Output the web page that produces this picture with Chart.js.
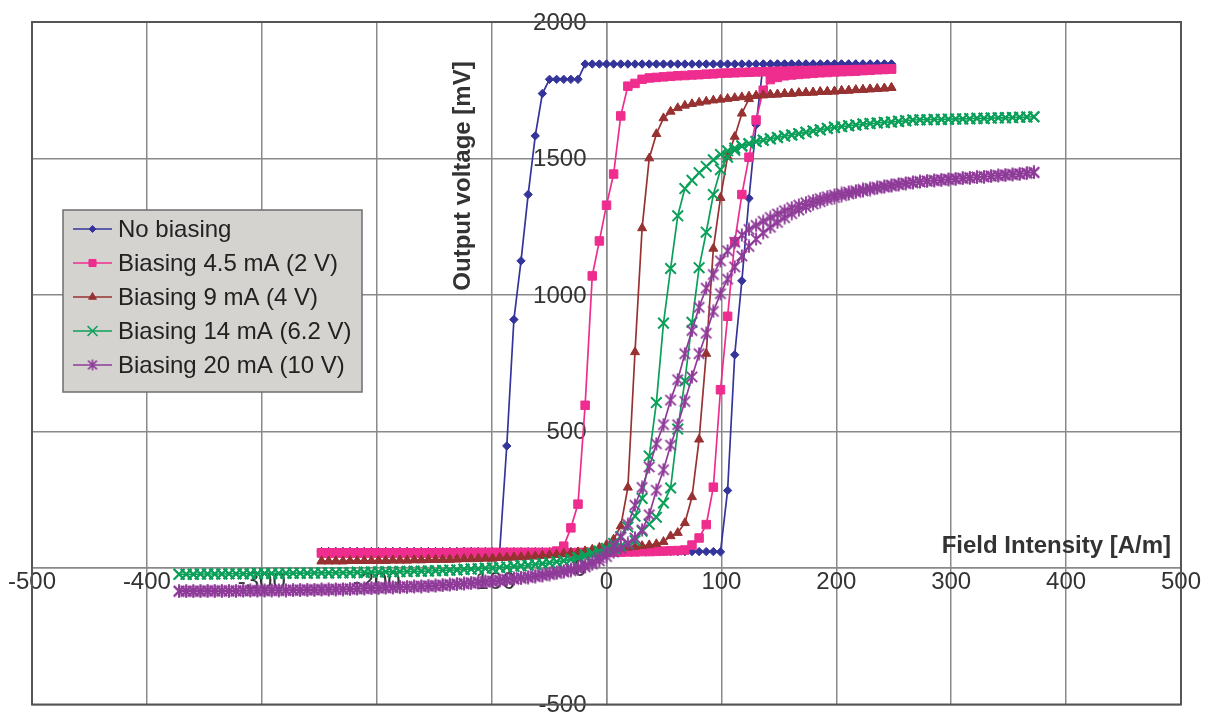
<!DOCTYPE html>
<html>
<head>
<meta charset="utf-8">
<title>Output voltage vs field intensity</title>
<script src="https://cdn.jsdelivr.net/npm/chart.js@4.4.1/dist/chart.umd.min.js"></script>
<style>
  html, body { margin: 0; padding: 0; background: #fff; }
  #wrap { width: 1207px; height: 714px; position: relative; }
</style>
</head>
<body>
<div id="wrap"><canvas id="loopChart"></canvas></div>
<script>
// Field intensity [A/m] the sensors were swept over
const fieldShort = [
  -248, -241.8, -235.6, -229.4, -223.2, -217, -210.8, -204.6, -198.4, -192.2,
  -186, -179.8, -173.6, -167.4, -161.2, -155, -148.8, -142.6, -136.4, -130.2,
  -124, -117.8, -111.6, -105.4, -99.2, -93, -86.8, -80.6, -74.4, -68.2,
  -62, -55.8, -49.6, -43.4, -37.2, -31, -24.8, -18.6, -12.4, -6.2,
  0, 6.2, 12.4, 18.6, 24.8, 31, 37.2, 43.4, 49.6, 55.8,
  62, 68.2, 74.4, 80.6, 86.8, 93, 99.2, 105.4, 111.6, 117.8,
  124, 130.2, 136.4, 142.6, 148.8, 155, 161.2, 167.4, 173.6, 179.8,
  186, 192.2, 198.4, 204.6, 210.8, 217, 223.2, 229.4, 235.6, 241.8,
  248
];
const fieldLong = [
  -372, -365.8, -359.6, -353.4, -347.2, -341, -334.8, -328.6, -322.4, -316.2,
  -310, -303.8, -297.6, -291.4, -285.2, -279, -272.8, -266.6, -260.4, -254.2,
  -248, -241.8, -235.6, -229.4, -223.2, -217, -210.8, -204.6, -198.4, -192.2,
  -186, -179.8, -173.6, -167.4, -161.2, -155, -148.8, -142.6, -136.4, -130.2,
  -124, -117.8, -111.6, -105.4, -99.2, -93, -86.8, -80.6, -74.4, -68.2,
  -62, -55.8, -49.6, -43.4, -37.2, -31, -24.8, -18.6, -12.4, -6.2,
  0, 6.2, 12.4, 18.6, 24.8, 31, 37.2, 43.4, 49.6, 55.8,
  62, 68.2, 74.4, 80.6, 86.8, 93, 99.2, 105.4, 111.6, 117.8,
  124, 130.2, 136.4, 142.6, 148.8, 155, 161.2, 167.4, 173.6, 179.8,
  186, 192.2, 198.4, 204.6, 210.8, 217, 223.2, 229.4, 235.6, 241.8,
  248, 254.2, 260.4, 266.6, 272.8, 279, 285.2, 291.4, 297.6, 303.8,
  310, 316.2, 322.4, 328.6, 334.8, 341, 347.2, 353.4, 359.6, 365.8,
  372
];

// Output voltage [mV]; "Rise" = increasing field, "Fall" = decreasing field,
// both listed in the same order as the field array
const noBiasRise = [
  60, 60, 60, 60, 60, 60, 60, 60, 60, 60,
  60, 60, 60, 60, 60, 60, 60, 60, 60, 60,
  60, 60, 60, 60, 60, 60, 60, 60, 60, 60,
  60, 60, 60, 60, 60, 60, 60, 60, 60, 60,
  60, 60, 60, 60, 60, 60, 60, 60, 60, 60,
  60, 60, 60, 60, 60, 60, 59, 284, 781, 1052,
  1354, 1623, 1846, 1846, 1846, 1846, 1846, 1846, 1846, 1846,
  1846, 1846, 1846, 1846, 1846, 1846, 1846, 1846, 1846, 1846,
  1846
];
const noBiasFall = [
  60, 60, 60, 60, 60, 60, 60, 60, 60, 60,
  60, 60, 60, 60, 60, 60, 60, 60, 60, 60,
  60, 60, 60, 60, 60, 59, 447, 910, 1125, 1368,
  1583, 1738, 1790, 1790, 1790, 1790, 1790, 1846, 1846, 1846,
  1846, 1846, 1846, 1846, 1846, 1846, 1846, 1846, 1846, 1846,
  1846, 1846, 1846, 1846, 1846, 1846, 1846, 1846, 1846, 1846,
  1846, 1846, 1846, 1846, 1846, 1846, 1846, 1846, 1846, 1846,
  1846, 1846, 1846, 1846, 1846, 1846, 1846, 1846, 1846, 1846,
  1846
];
const bias45Rise = [
  55, 55, 55, 55, 55, 55, 55, 55, 55, 55,
  55, 55, 55, 55, 55, 55, 55, 55, 55, 55,
  56, 56, 56, 56, 56, 56, 56, 56, 56, 56,
  56, 56, 56, 56, 56, 56, 57, 57, 57, 57,
  57, 58, 58, 59, 59, 60, 60, 61, 62, 63,
  64, 66, 84, 110, 159, 296, 653, 922, 1195, 1368,
  1505, 1641, 1750, 1789, 1797, 1803, 1806, 1808, 1810, 1812,
  1814, 1815, 1817, 1818, 1819, 1820, 1822, 1823, 1825, 1826,
  1828
];
const bias45Fall = [
  56, 56, 56, 56, 56, 56, 56, 56, 56, 56,
  56, 56, 56, 56, 56, 56, 56, 56, 56, 56,
  57, 57, 57, 57, 57, 57, 57, 57, 57, 57,
  57, 57, 57, 62, 80, 147, 234, 596, 1070, 1198,
  1329, 1443, 1656, 1765, 1775, 1790, 1795, 1797, 1799, 1801,
  1803, 1804, 1806, 1807, 1809, 1810, 1812, 1813, 1814, 1815,
  1816, 1817, 1818, 1819, 1820, 1820, 1821, 1822, 1822, 1823,
  1823, 1824, 1824, 1825, 1825, 1826, 1826, 1827, 1827, 1828,
  1828
];
const bias9Rise = [
  25, 25, 25, 25, 26, 26, 26, 26, 27, 27,
  28, 28, 28, 29, 29, 30, 30, 31, 31, 32,
  33, 33, 34, 35, 35, 37, 38, 39, 40, 42,
  43, 45, 47, 49, 52, 54, 57, 60, 62, 65,
  67, 70, 72, 75, 78, 81, 84, 88, 96, 117,
  129, 165, 260, 471, 785, 1170, 1356, 1507, 1580, 1665,
  1718, 1730, 1732, 1734, 1735, 1737, 1738, 1740, 1741, 1742,
  1744, 1745, 1746, 1748, 1749, 1751, 1752, 1754, 1755, 1757,
  1759
];
const bias9Fall = [
  25, 25, 25, 25, 26, 26, 26, 26, 27, 27,
  28, 28, 28, 29, 29, 30, 30, 31, 31, 32,
  33, 33, 34, 35, 35, 37, 38, 39, 40, 42,
  43, 45, 47, 49, 52, 55, 58, 62, 68, 75,
  85, 105, 153, 295, 791, 1245, 1501, 1590, 1648, 1672,
  1685, 1694, 1700, 1705, 1709, 1713, 1716, 1719, 1722, 1725,
  1728, 1730, 1732, 1734, 1735, 1737, 1738, 1740, 1741, 1742,
  1744, 1745, 1746, 1748, 1749, 1751, 1752, 1754, 1755, 1757,
  1759
];
const bias14Rise = [
  -23, -23, -23, -22, -22, -22, -22, -21, -21, -21,
  -21, -20, -20, -20, -20, -19, -19, -19, -19, -18,
  -18, -18, -17, -17, -17, -16, -16, -15, -15, -14,
  -14, -13, -13, -12, -12, -11, -10, -9, -8, -7,
  -5, -4, -3, -1, 0, 2, 4, 6, 8, 10,
  13, 16, 19, 23, 27, 31, 36, 42, 49, 57,
  65, 72, 80, 89, 100, 135, 160, 186, 238, 293,
  509, 685, 900, 1100, 1230, 1368, 1459, 1505, 1530, 1545,
  1553, 1562, 1567, 1572, 1577, 1582, 1586, 1591, 1596, 1601,
  1605, 1610, 1614, 1617, 1620, 1623, 1626, 1628, 1630, 1632,
  1634, 1636, 1638, 1641, 1642, 1642, 1643, 1643, 1644, 1645,
  1645, 1646, 1647, 1647, 1648, 1649, 1649, 1650, 1651, 1652,
  1653
];
const bias14Fall = [
  -23, -23, -23, -22, -22, -22, -22, -21, -21, -21,
  -21, -20, -20, -20, -20, -19, -19, -19, -19, -18,
  -18, -18, -17, -17, -17, -16, -16, -15, -15, -14,
  -14, -13, -13, -12, -12, -11, -10, -9, -8, -7,
  -5, -4, -3, -1, 0, 2, 4, 6, 8, 10,
  13, 16, 19, 23, 27, 32, 40, 48, 55, 62,
  72, 90, 115, 150, 190, 255, 410, 606, 897, 1097,
  1290, 1390, 1420, 1448, 1471, 1495, 1515, 1528, 1538, 1547,
  1555, 1562, 1567, 1572, 1577, 1582, 1586, 1591, 1596, 1601,
  1605, 1610, 1614, 1617, 1620, 1623, 1626, 1628, 1630, 1632,
  1634, 1636, 1638, 1641, 1642, 1642, 1643, 1643, 1644, 1645,
  1645, 1646, 1647, 1647, 1648, 1649, 1649, 1650, 1651, 1652,
  1653
];
const bias20Rise = [
  -86, -86, -86, -86, -85, -85, -85, -85, -85, -84,
  -84, -84, -84, -83, -83, -83, -82, -82, -81, -81,
  -80, -80, -79, -79, -78, -77, -76, -75, -74, -73,
  -72, -71, -70, -69, -68, -67, -66, -64, -62, -60,
  -58, -56, -54, -52, -50, -47, -44, -41, -38, -35,
  -32, -28, -24, -20, -15, -10, -4, 4, 14, 26,
  42, 58, 72, 90, 110, 140, 195, 285, 360, 450,
  525, 610, 700, 785, 860, 940, 1005, 1058, 1103, 1143,
  1178, 1205, 1228, 1248, 1266, 1283, 1298, 1311, 1323, 1333,
  1342, 1350, 1357, 1364, 1370, 1376, 1381, 1386, 1391, 1395,
  1399, 1404, 1408, 1411, 1414, 1417, 1419, 1421, 1423, 1425,
  1427, 1429, 1431, 1433, 1435, 1437, 1439, 1441, 1443, 1446,
  1449
];
const bias20Fall = [
  -84, -84, -84, -84, -83, -83, -83, -83, -83, -82,
  -82, -82, -82, -81, -81, -81, -80, -80, -79, -79,
  -78, -78, -77, -77, -76, -75, -74, -73, -72, -71,
  -70, -69, -68, -67, -66, -65, -64, -62, -60, -58,
  -56, -54, -52, -49, -47, -44, -41, -38, -35, -32,
  -28, -24, -20, -15, -10, -4, 3, 12, 23, 38,
  58, 82, 112, 160, 230, 295, 370, 455, 525, 615,
  690, 785, 870, 955, 1025, 1075, 1125, 1162, 1193, 1220,
  1240, 1255, 1270, 1284, 1297, 1309, 1320, 1329, 1338, 1346,
  1353, 1360, 1366, 1372, 1377, 1382, 1387, 1391, 1395, 1399,
  1403, 1407, 1410, 1413, 1416, 1418, 1420, 1422, 1424, 1426,
  1428, 1430, 1432, 1434, 1436, 1438, 1440, 1442, 1444, 1447,
  1449
];

const seriesNames = [
  'No biasing',
  'Biasing 4.5 mA (2 V)',
  'Biasing 9 mA (4 V)',
  'Biasing 14 mA (6.2 V)',
  'Biasing 20 mA (10 V)'
];
const seriesColors = ['#34349a', '#ee2d8f', '#983232', '#0ba05a', '#8f3b99'];
const xRange = [-500, 500];
const yRange = [-500, 2000];
const xStep = 100;
const yStep = 500;
const xTitle = 'Field Intensity [A/m]';
const yTitle = 'Output voltage [mV]';

const FONT = "'Liberation Sans', Arial, Helvetica, sans-serif";
const TEXT = '#333333';

// the "*" marker (x plus a vertical bar)
function asterisk(color, size, width) {
  const c = document.createElement('canvas');
  c.width = size;
  c.height = size;
  const g = c.getContext('2d');
  const m = size / 2, r = size / 2 - 0.5, d = r * 0.8;
  g.strokeStyle = color;
  g.lineWidth = width;
  g.beginPath();
  g.moveTo(m - d, m - d); g.lineTo(m + d, m + d);
  g.moveTo(m + d, m - d); g.lineTo(m - d, m + d);
  g.moveTo(m, m - r); g.lineTo(m, m + r);
  g.stroke();
  return c;
}

// walk up the rising branch, then back down the falling one
function loopPoints(field, rise, fall) {
  const pts = field.map((x, i) => ({ x: x, y: rise[i] }));
  for (let i = field.length - 1; i >= 0; i--) {
    pts.push({ x: field[i], y: fall[i] });
  }
  return pts;
}

const markers = [
  { style: 'rectRot', radius: 4.2, legendRadius: 3.5, border: 1 },
  { style: 'rect', radius: 6, legendRadius: 5, border: 1 },
  { style: 'triangle', radius: 5.2, legendRadius: 4.5, border: 1 },
  { style: 'crossRot', radius: 7.5, legendRadius: 7, border: 2 },
  { style: asterisk(seriesColors[4], 14, 1.9), legend: asterisk(seriesColors[4], 12, 1.6), radius: 6, legendRadius: 6, border: 1 }
];

const loops = [
  loopPoints(fieldShort, noBiasRise, noBiasFall),
  loopPoints(fieldShort, bias45Rise, bias45Fall),
  loopPoints(fieldShort, bias9Rise, bias9Fall),
  loopPoints(fieldLong, bias14Rise, bias14Fall),
  loopPoints(fieldLong, bias20Rise, bias20Fall)
];

const datasets = loops.map((pts, i) => ({
  label: seriesNames[i],
  data: pts,
  showLine: true,
  borderColor: seriesColors[i],
  backgroundColor: seriesColors[i],
  borderWidth: 1.7,
  pointStyle: markers[i].style,
  pointRadius: markers[i].radius,
  pointBorderWidth: markers[i].border,
  pointBackgroundColor: seriesColors[i],
  pointBorderColor: seriesColors[i],
  tension: 0,
  order: seriesNames.length - i   // later series drawn on top
}));

// tick labels beside the crossing axes, plot frame, axis titles, boxed legend
const decorations = {
  id: 'decorations',
  beforeDatasetsDraw(chart) {
    const { ctx, scales: { x, y } } = chart;
    const x0 = x.getPixelForValue(0);
    const y0 = y.getPixelForValue(0);
    ctx.save();
    ctx.fillStyle = TEXT;
    ctx.font = '24px ' + FONT;
    ctx.textBaseline = 'middle';
    ctx.textAlign = 'center';
    x.ticks.forEach(t => {
      ctx.fillText(String(t.value), x.getPixelForValue(t.value), y0 + 14);
    });
    ctx.textAlign = 'right';
    y.ticks.forEach(t => {
      ctx.fillText(String(t.value), x0 - 20, y.getPixelForValue(t.value) + 1);
    });
    ctx.restore();
  },
  afterDatasetsDraw(chart) {
    const { ctx, chartArea: a } = chart;
    ctx.save();
    ctx.strokeStyle = '#555555';
    ctx.lineWidth = 2;
    ctx.strokeRect(a.left, a.top, a.right - a.left, a.bottom - a.top);
    ctx.restore();
  },
  afterDraw(chart) {
    const ctx = chart.ctx;
    ctx.save();

    ctx.fillStyle = TEXT;
    ctx.font = 'bold 24px ' + FONT;
    ctx.textBaseline = 'middle';
    ctx.textAlign = 'right';
    ctx.fillText(xTitle, 1171, 546);

    ctx.save();
    ctx.translate(463, 176);
    ctx.rotate(-Math.PI / 2);
    ctx.textAlign = 'center';
    ctx.fillText(yTitle, 0, 0);
    ctx.restore();

    // legend box
    ctx.fillStyle = '#d5d3d0';
    ctx.fillRect(63, 210, 299, 182);
    ctx.strokeStyle = '#6e6e6e';
    ctx.lineWidth = 1.5;
    ctx.strokeRect(63, 210, 299, 182);

    ctx.font = '24px ' + FONT;
    ctx.textAlign = 'left';
    seriesNames.forEach((name, i) => {
      const y = 229 + i * 34;
      ctx.strokeStyle = seriesColors[i];
      ctx.fillStyle = seriesColors[i];
      ctx.lineWidth = 1.5;
      ctx.beginPath();
      ctx.moveTo(73, y);
      ctx.lineTo(112, y);
      ctx.stroke();
      const m = markers[i];
      ctx.lineWidth = Math.min(m.border, 1.6);
      Chart.helpers.drawPoint(ctx, {
        pointStyle: m.legend || m.style,
        radius: m.legendRadius,
        borderWidth: m.border,
        rotation: 0
      }, 92.5, y);
      ctx.fillStyle = '#222222';
      ctx.fillText(name, 118, y + 1);
    });
    ctx.restore();
  }
};

new Chart(document.getElementById('loopChart'), {
  type: 'scatter',
  data: { datasets: datasets },
  options: {
    responsive: true,
    maintainAspectRatio: false,
    animation: false,
    events: [],
    layout: { padding: { left: 32, right: 26, top: 22, bottom: 7 } },
    plugins: {
      legend: { display: false },
      tooltip: { enabled: false }
    },
    scales: {
      x: {
        type: 'linear',
        position: { y: 0 },
        min: xRange[0],
        max: xRange[1],
        grid: { color: '#8a8a8a', lineWidth: 1.5, drawTicks: false },
        border: { color: '#8a8a8a', width: 1.5 },
        ticks: { stepSize: xStep, autoSkip: false, maxRotation: 0, display: false }
      },
      y: {
        type: 'linear',
        position: { x: 0 },
        min: yRange[0],
        max: yRange[1],
        grid: { color: '#8a8a8a', lineWidth: 1.5, drawTicks: false },
        border: { color: '#8a8a8a', width: 1.5 },
        ticks: { stepSize: yStep, display: false }
      }
    }
  },
  plugins: [decorations]
});
</script>
</body>
</html>
